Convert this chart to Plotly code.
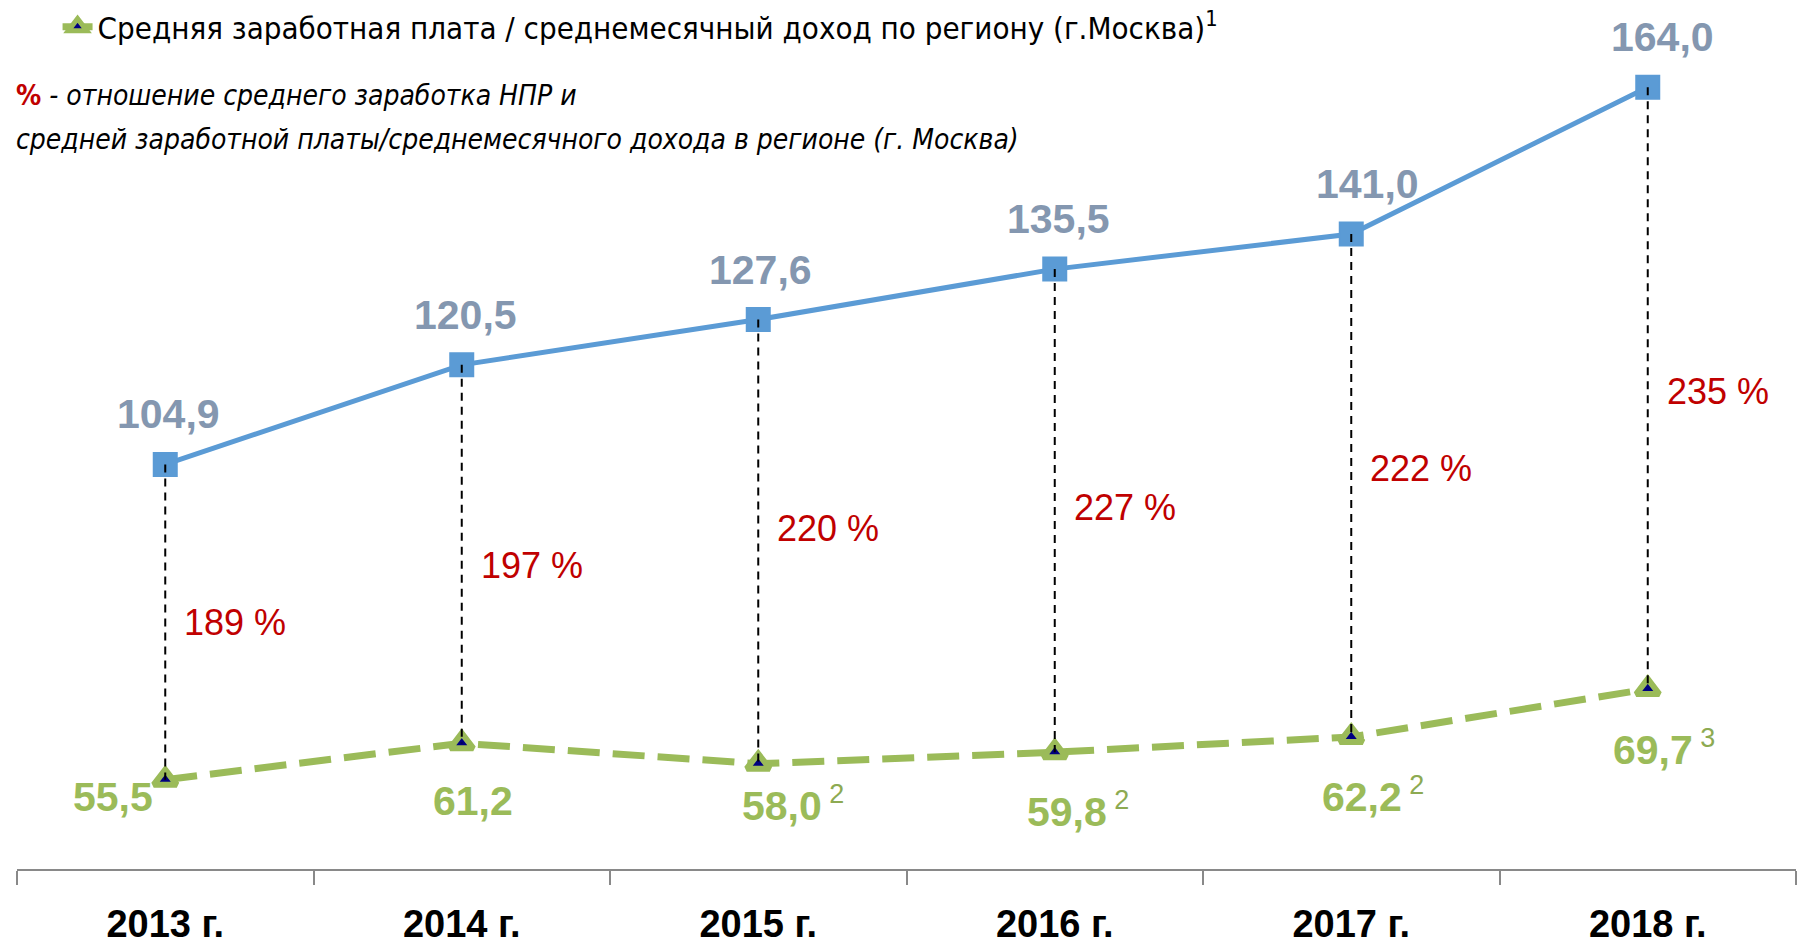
import plotly.graph_objects as go

years = ["2013 г.", "2014 г.", "2015 г.", "2016 г.", "2017 г.", "2018 г."]
npr_salary = [104.9, 120.5, 127.6, 135.5, 141.0, 164.0]
region_income = [55.5, 61.2, 58.0, 59.8, 62.2, 69.7]
ratio_pct = [189, 197, 220, 227, 222, 235]
region_notes = ["", "", "2", "2", "2", "3"]

NUM_FONT = "Liberation Sans, Arial, sans-serif"
TXT_FONT = "DejaVu Sans Condensed, Liberation Sans, sans-serif"
BLUE = "#5B9BD5"
GREEN = "#9BBB59"
LABEL_BLUE = "#8497B0"
RED = "#C00000"


def fmt(v):
    return f"{v:.1f}".replace(".", ",")


fig = go.Figure()

fig.add_trace(go.Scatter(
    x=years, y=npr_salary, mode="lines+markers", name="Средняя заработная плата НПР",
    line=dict(color=BLUE, width=5),
    marker=dict(symbol="square", size=23, color=BLUE, line=dict(color=BLUE, width=2)),
    showlegend=False))

fig.add_trace(go.Scatter(
    x=years, y=region_income, mode="lines+markers",
    name="Средняя заработная плата / среднемесячный доход по региону (г.Москва)<sup>1</sup>",
    line=dict(color=GREEN, width=7, dash="32px,13px"),
    marker=dict(symbol="triangle-up", size=20, color="#000080", line=dict(color=GREEN, width=6))))

# drop lines between the two series
for yr, top, bottom in zip(years, npr_salary, region_income):
    fig.add_trace(go.Scatter(
        x=[yr, yr], y=[top, bottom], mode="lines", showlegend=False, hoverinfo="skip",
        line=dict(color="black", width=2, dash="8px,6px")))

blue_shift = [3, 4, 2, 4, 16, 15]
for yr, v, dx in zip(years, npr_salary, blue_shift):
    fig.add_annotation(x=yr, y=v, text=f"<b>{fmt(v)}</b>", showarrow=False,
                       xanchor="center", yanchor="middle", xshift=dx, yshift=50,
                       font=dict(family=NUM_FONT, size=41, color=LABEL_BLUE))

pct_shift = [0, -11, 13, 3, 17, -3]
for yr, top, bottom, p, dy in zip(years, npr_salary, region_income, ratio_pct, pct_shift):
    fig.add_annotation(x=yr, y=(top + bottom) / 2, text=f"{p} %", showarrow=False,
                       xanchor="left", yanchor="middle", xshift=17, yshift=dy,
                       font=dict(family=NUM_FONT, size=36, color=RED))

green_shift = [(-10, -17, "right"), (-31, -58, "left"), (-18, -40, "left"),
               (-30, -58, "left"), (-31, -58, "left"), (-37, -59, "left")]
for yr, v, note, (dx, dy, anchor) in zip(years, region_income, region_notes, green_shift):
    txt = f"<b>{fmt(v)}</b>"
    if note:
        txt += f"<sup><span style='font-size:27px;font-weight:normal;color:#8DAA52'> {note}</span></sup>"
    fig.add_annotation(x=yr, y=v, text=txt, showarrow=False,
                       xanchor=anchor, yanchor="middle", xshift=dx, yshift=dy,
                       font=dict(family=NUM_FONT, size=41, color=GREEN))

fig.add_annotation(
    xref="paper", yref="paper", x=-0.0017, y=0.8933, xanchor="left", yanchor="middle",
    showarrow=False,
    text="<b><span style='color:%s'>%%</span></b><i> - отношение среднего заработка НПР и</i>" % RED,
    font=dict(family=TXT_FONT, size=28, color="black"))
fig.add_annotation(
    xref="paper", yref="paper", x=-0.0017, y=0.8429, xanchor="left", yanchor="middle",
    showarrow=False,
    text="<i>средней заработной платы/среднемесячного дохода в регионе (г. Москва)</i>",
    font=dict(family=TXT_FONT, size=28, color="black"))

fig.update_layout(
    width=1799, height=945,
    margin=dict(l=17, r=3, t=0, b=73),
    paper_bgcolor="white", plot_bgcolor="white",
    legend=dict(x=0.0228, y=1.004, xanchor="left", yanchor="top", bgcolor="rgba(0,0,0,0)",
                font=dict(family=TXT_FONT, size=31, color="black")),
    xaxis=dict(type="category", range=[-0.5, 5.5], tickson="boundaries",
               ticks="outside", ticklen=14, tickwidth=2, tickcolor="#898989",
               showline=True, linecolor="#898989", linewidth=2, showgrid=False,
               tickvals=years, ticktext=[f"<b>{y}</b>" for y in years],
               ticklabelstandoff=20,
               tickfont=dict(family=NUM_FONT, size=38, color="black")),
    yaxis=dict(range=[41.5, 177.2], visible=False, showgrid=False, zeroline=False),
)

fig.write_html("out.html", config={"displayModeBar": False},
               post_script="document.body.style.margin='0';")
